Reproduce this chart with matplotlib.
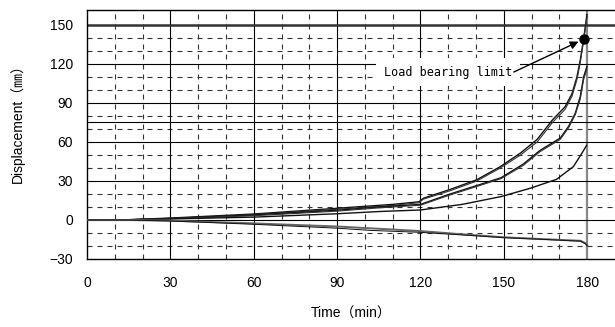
import matplotlib
matplotlib.use("Agg")
import matplotlib.pyplot as plt

# test curves: time (min) and displacement (mm)
tA = [0, 12, 30, 60, 90, 110, 119.5, 121, 130.7, 140.3, 148.7, 156, 162, 167.5, 172, 174.5, 176.3, 177.5, 178.7, 179.9]
dA1 = [0, 0, 1.5, 4.6, 9, 12, 14, 16.7, 23.5, 31, 41, 51.5, 62, 77, 87, 97, 110, 123, 139, 158]
dA2 = [0, 0, 1.2, 4.0, 8.3, 11.2, 13.3, 16.0, 22.5, 30, 40, 50, 60, 75, 85, 95, 108, 121, 138, 156]

tB = [0, 12, 30, 60, 90, 105, 120, 130.7, 140.3, 149, 157, 163, 170.3, 173.3, 175.7, 177.5, 178.7, 179.9]
dB1 = [0, 0, 1.2, 3.8, 7.5, 10, 12, 20, 26.5, 32.5, 43, 53.5, 63, 72, 82, 95, 110, 118]
dB2 = [0, 0, 1.0, 3.3, 6.8, 9.3, 11.4, 19.3, 25.8, 31.8, 42, 52.5, 62, 71, 81, 93, 108, 116]

tD = [0, 12, 30, 60, 90, 105, 120, 135, 149, 159.5, 169, 175, 178, 179.8]
dD = [0, 0, 0.8, 2.2, 4.8, 6.5, 7.7, 12, 18, 24.4, 31.3, 41, 51, 57.5]

tE = [0, 15, 30, 60, 90, 102, 120, 135, 150, 165, 177.6, 179.5, 180]
dE1 = [0, 0, -0.5, -2.6, -5, -6.4, -8.5, -11, -13.3, -14.8, -16, -18, -19.5]
dE2 = [0, 0, -0.8, -3.3, -6.3, -8.0, -9.5, -11.5, -13.6, -15, -16.3, -18.5, -20]

# load bearing limit point
limit_t = 178.7
limit_d = 139

x_ticks = [0, 30, 60, 90, 120, 150, 180]
y_ticks = [-30, 0, 30, 60, 90, 120, 150]
x_minor = [10, 20, 40, 50, 70, 80, 100, 110, 130, 140, 160, 170]
y_minor = [-20, -10, 10, 20, 40, 50, 70, 80, 100, 110, 130, 140]

fig = plt.figure(figsize=(6.15, 3.27), dpi=100)
ax = fig.add_axes([87/615, 1 - 259/327, (615 - 87)/615, (259 - 10)/327])
ax.set_xlim(0, 190)
ax.set_ylim(-30, 161.5)

ax.set_xticks(x_ticks)
ax.set_yticks(y_ticks)
ax.set_xticks(x_minor, minor=True)
ax.set_yticks(y_minor, minor=True)
ax.tick_params(which='both', length=0)
ax.tick_params(axis='x', pad=12)
ax.tick_params(axis='y', pad=10)
for lab in ax.get_xticklabels() + ax.get_yticklabels():
    lab.set_family('Liberation Sans')
    lab.set_fontsize(10)

ax.grid(which='minor', linestyle=(0, (4.5, 4.5)), color='#333333', lw=0.8)
ax.set_axisbelow(True)

# solid grid lines
for x in [30, 60, 90, 120, 150]:
    ax.axvline(x, color='k', lw=0.8, zorder=1)
ax.axvline(180, color='#888888', lw=1.6, zorder=1)
for y in [0, 30, 60, 75, 90, 120]:
    ax.axhline(y, color='k', lw=0.8, zorder=1)
ax.axhline(150, color='#333333', lw=1.8, zorder=1)

ax.spines['right'].set_visible(False)
for s in ['left', 'bottom', 'top']:
    ax.spines[s].set_linewidth(1.0)

# curves
ax.plot(tA, dA1, color='#111111', lw=1.0, zorder=3)
ax.plot(tA, dA2, color='#333333', lw=0.8, zorder=3)
ax.plot(tB, dB1, color='#111111', lw=1.0, zorder=3)
ax.plot(tB, dB2, color='#333333', lw=0.8, zorder=3)
ax.plot(tD, dD, color='#111111', lw=1.0, zorder=3)
ax.plot(tE, dE1, color='#666666', lw=1.4, zorder=3)
ax.plot(tE, dE2, color='#111111', lw=0.7, zorder=3)

ax.plot([limit_t], [limit_d], 'o', color='k', markersize=6.5, zorder=6)
ax.text(106.9, 113.8, 'Load bearing limit', ha='left', va='center',
        family='DejaVu Sans Mono', fontsize=8.5, zorder=4,
        bbox=dict(boxstyle='square,pad=0.65', facecolor='white', edgecolor='none'))
ax.annotate('', xy=(limit_t, limit_d), xytext=(153.6, 113.8),
            arrowprops=dict(arrowstyle='-|>', color='k', lw=1.0,
                            shrinkA=0, shrinkB=4, mutation_scale=12),
            zorder=5)

ax.set_xlabel('Time（min）', family=['Liberation Sans', 'Noto Sans CJK JP'],
              fontsize=10)
ax.set_ylabel('Displacement（㎜）', family=['Liberation Sans', 'Noto Sans CJK JP'],
              fontsize=10)
ax.xaxis.set_label_coords((351 - 87) / 528, -48 / 249)
ax.yaxis.set_label_coords(-62 / 528, (259 - 120) / 249)

fig.savefig('out.png', dpi=100)
